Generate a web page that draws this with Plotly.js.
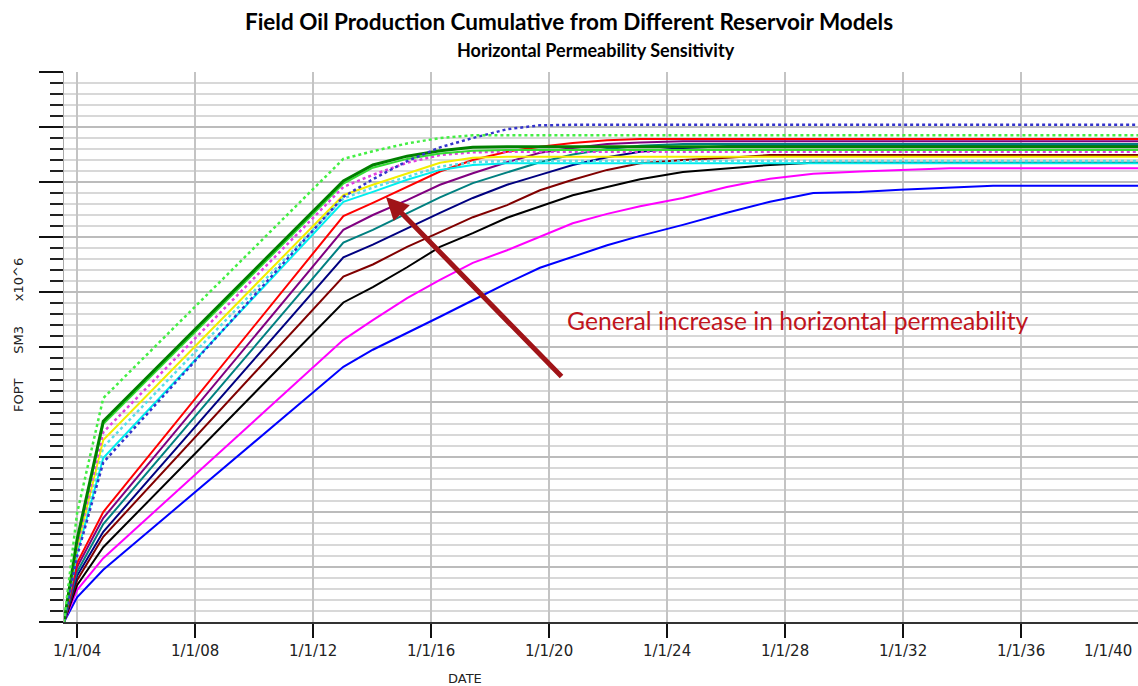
<!DOCTYPE html>
<html>
<head>
<meta charset="utf-8">
<script src="https://cdn.plot.ly/plotly-3.0.1.min.js"></script>
<style>html,body{margin:0;padding:0;background:#fff;}#chart{width:1138px;height:686px;}</style>
</head>
<body>
<div id="chart"></div>
<script>
// Report dates (shared by all runs)
const dates = ['2003-07-23','2004-01-01','2004-11-20','2013-01-10','2014-01-10','2015-03-10','2016-04-20','2017-06-01','2018-07-30','2019-09-10','2020-10-20','2021-12-20','2023-02-01','2024-07-15','2026-01-10','2027-06-28','2028-12-15','2030-07-15','2031-11-25','2033-08-01','2035-01-20','2039-12-19'];

// FOPT values (arbitrary units, 0-100 across the axis)
const greenDot   = [0,19.8,40.7,84.2,85.6,87.0,88.0,88.5,88.5,88.5,88.5,88.5,88.5,88.5,88.5,88.5,88.5,88.5,88.5,88.5,88.5,88.5];
const darkGreen  = [0,15.0,36.5,80.2,83.1,84.7,85.7,86.3,86.4,86.4,86.4,86.4,86.4,86.4,86.4,86.4,86.4,86.4,86.4,86.4,86.4,86.4];
const lightGreen = [0,14.6,36.0,79.7,82.6,84.2,85.2,85.7,85.8,85.8,85.8,85.8,85.8,85.8,85.8,85.8,85.8,85.8,85.8,85.8,85.8,85.8];
const magentaDot = [0,14.0,34.5,79.1,81.3,83.5,84.9,85.4,85.5,85.5,85.5,85.5,85.5,85.5,85.5,85.5,85.5,85.5,85.5,85.5,85.5,85.5];
const yellow     = [0,13.5,33.1,77.6,79.5,81.6,83.5,84.4,84.6,84.6,84.6,84.6,84.6,84.6,84.6,84.6,84.6,84.6,84.6,84.6,84.6,84.6];
const cyanDot    = [0,13.0,31.8,77.0,79.0,81.0,82.8,83.6,83.8,83.8,83.8,83.8,83.8,83.8,83.8,83.8,83.8,83.8,83.8,83.8,83.8,83.8];
const cyan       = [0,12.5,29.8,76.4,78.2,80.4,82.2,83.1,83.4,83.4,83.4,83.4,83.4,83.4,83.4,83.4,83.4,83.4,83.4,83.4,83.4,83.4];
const blueDot    = [0,12.0,29.0,77.3,80.5,83.8,86.3,88.0,89.6,90.3,90.4,90.4,90.4,90.4,90.4,90.4,90.4,90.4,90.4,90.4,90.4,90.4];
const red        = [0,10.7,20.0,73.8,76.2,79.1,81.9,84.0,85.5,86.4,87.1,87.6,87.8,87.8,87.8,87.8,87.8,87.8,87.8,87.8,87.8,87.8];
const purple     = [0,10.0,18.9,71.3,74.0,76.7,79.5,81.6,83.6,85.3,86.2,86.9,87.2,87.4,87.4,87.4,87.4,87.4,87.4,87.4,87.4,87.4];
const teal       = [0,9.1,17.8,69.0,71.3,74.3,77.2,79.8,81.8,83.6,85.0,86.0,86.6,86.9,86.9,86.9,86.9,86.9,86.9,86.9,86.9,86.9];
const navy       = [0,8.4,16.4,66.3,68.6,71.6,74.4,77.1,79.5,81.3,83.1,84.5,85.5,86.2,86.5,86.5,86.5,86.5,86.5,86.5,86.5,86.5];
const brown      = [0,7.6,15.5,62.8,65.0,68.2,70.9,73.6,75.8,78.5,80.4,82.2,83.4,84.0,84.4,84.9,84.9,84.9,84.9,84.9,84.9,84.9];
const black      = [0,6.7,13.6,58.1,60.9,64.5,68.2,70.7,73.5,75.5,77.6,79.1,80.5,81.8,82.5,83.1,83.5,83.5,83.5,83.5,83.5,83.5];
const magenta    = [0,5.8,11.6,51.3,54.9,58.9,62.2,65.3,67.6,70.0,72.5,74.2,75.6,77.1,79.1,80.6,81.5,81.9,82.2,82.5,82.5,82.5];
const blue       = [0,4.5,9.5,46.4,49.5,52.5,55.5,58.5,61.6,64.4,66.4,68.5,70.2,72.2,74.4,76.4,78.0,78.2,78.6,79.0,79.3,79.3];

const lastTickLabel = '1/1/40';
const titleText = 'Field Oil Production Cumulative from Different Reservoir Models';
const subtitleText = 'Horizontal Permeability Sensitivity';
const yTitle = 'FOPT\u00a0\u00a0\u00a0\u00a0\u00a0\u00a0SM3\u00a0\u00a0\u00a0\u00a0\u00a0\u00a0x10^6';
const xTitle = 'DATE';
const noteText = 'General increase in horizontal permeability';

const series = [
  {y: blue, color: '#0000ff', dash: 'solid', w: 2},
  {y: magenta, color: '#ff00ff', dash: 'solid', w: 2},
  {y: black, color: '#000000', dash: 'solid', w: 2},
  {y: brown, color: '#800000', dash: 'solid', w: 2},
  {y: navy, color: '#000080', dash: 'solid', w: 2},
  {y: teal, color: '#008080', dash: 'solid', w: 2},
  {y: purple, color: '#800080', dash: 'solid', w: 2},
  {y: red, color: '#ff0000', dash: 'solid', w: 2},
  {y: cyan, color: '#00eeee', dash: 'solid', w: 2},
  {y: cyanDot, color: '#55dde8', dash: 'dot', w: 2.5},
  {y: yellow, color: '#f2ee00', dash: 'solid', w: 2},
  {y: magentaDot, color: '#e040e0', dash: 'dot', w: 2.5},
  {y: lightGreen, color: '#33dd33', dash: 'solid', w: 2},
  {y: darkGreen, color: '#008000', dash: 'solid', w: 3},
  {y: blueDot, color: '#3434cc', dash: 'dot', w: 2.5},
  {y: greenDot, color: '#44ee44', dash: 'dot', w: 2.5}
];

const traces = series.map(s => ({
  type: 'scatter', mode: 'lines', x: dates, y: s.y,
  line: {color: s.color, width: s.w, dash: s.dash}, hoverinfo: 'skip'
}));

const L = 64, R = 0, T = 72, B = 64, W = 1138, H = 686;
const pw = W - L - R, ph = H - T - B;
const px = x => (x - L) / pw;
const py = y => (H - B - y) / ph;

const layout = {
  width: W, height: H,
  margin: {l: L, r: R, t: T, b: B, pad: 0},
  paper_bgcolor: '#ffffff', plot_bgcolor: '#ffffff',
  showlegend: false,
  title: {text: '<b>' + titleText + '</b>', x: 569 / W, xanchor: 'center', y: 1 - 22/H, yanchor: 'middle', yref: 'container',
          font: {family: 'Lato, Liberation Sans, sans-serif', size: 22.5, color: '#000'}},
  xaxis: {
    type: 'date', range: ['2003-07-23', '2039-12-19'],
    tick0: '2004-01-01', dtick: 'M48', tickformat: '%-m/%-d/%y',
    ticks: 'outside', ticklen: 14, tickwidth: 2, tickcolor: '#111',
    showline: true, linecolor: '#333', linewidth: 2,
    showgrid: true, gridcolor: '#c4c4c4', gridwidth: 2, zeroline: false,
    tickfont: {family: 'DejaVu Sans, sans-serif', size: 15, color: '#222'}
  },
  yaxis: {
    range: [0, 100], tick0: 0, dtick: 10,
    ticks: 'outside', ticklen: 24, tickwidth: 2.5, tickcolor: '#111',
    showticklabels: false,
    showline: true, linecolor: '#aaaaaa', linewidth: 1,
    showgrid: true, gridcolor: '#bcbcbc', gridwidth: 2, zeroline: false,
    minor: {dtick: 2, ticks: 'outside', ticklen: 13, tickwidth: 2, tickcolor: '#222',
            showgrid: true, gridcolor: '#d8d8d8', gridwidth: 2}
  },
  annotations: [
    {xref: 'paper', yref: 'paper', x: px(596), y: py(50), xanchor: 'center', yanchor: 'middle', showarrow: false,
     text: '<b>' + subtitleText + '</b>', font: {family: 'Lato, Liberation Sans, sans-serif', size: 18, color: '#000'}},
    {xref: 'paper', yref: 'paper', x: px(1108), y: py(651), xanchor: 'center', yanchor: 'middle', showarrow: false,
     text: lastTickLabel, font: {family: 'DejaVu Sans, sans-serif', size: 15, color: '#222'}},
    {xref: 'paper', yref: 'paper', x: px(465), y: py(678), xanchor: 'center', yanchor: 'middle', showarrow: false,
     text: xTitle, font: {family: 'DejaVu Sans, sans-serif', size: 13, color: '#222'}},
    {xref: 'paper', yref: 'paper', x: px(18), y: py(335), xanchor: 'center', yanchor: 'middle', showarrow: false,
     textangle: -90, text: yTitle, font: {family: 'DejaVu Sans, sans-serif', size: 13, color: '#222'}},
    {xref: 'paper', yref: 'paper', x: px(565), y: py(320), xanchor: 'left', yanchor: 'middle', showarrow: false,
     text: noteText, font: {family: 'Lato, Liberation Sans, sans-serif', size: 24.7, color: '#c0141c'}},
    {xref: 'paper', yref: 'paper', x: px(386), y: py(197), showarrow: true, text: '',
     ax: 177, ay: 181, arrowhead: 2, arrowsize: 0.9, arrowwidth: 5, arrowcolor: '#a01418', standoff: 0}
  ]
};

Plotly.newPlot('chart', traces, layout, {displayModeBar: false, staticPlot: true});
</script>
</body>
</html>
